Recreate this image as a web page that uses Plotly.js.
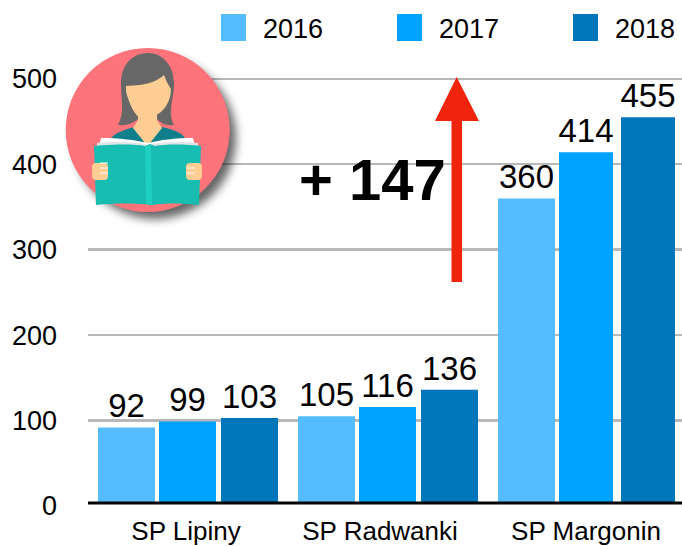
<!DOCTYPE html>
<html><head><meta charset="utf-8">
<script src="https://cdn.plot.ly/plotly-3.0.1.min.js"></script>
<style>html,body{margin:0;padding:0;background:#fff;overflow:hidden}</style>
</head><body><div id="chart" style="width:682px;height:546px"></div>
<script>
const categories = ['SP Lipiny','SP Radwanki','SP Margonin'];
const categoryTickPositions = [-0.01,-0.04+1,-0.01+2];
const years = ['2016','2017','2018'];
const values2016 = [92,105,360];
const values2017 = [99,116,414];
const values2018 = [103,136,455];
const colors = ['#55BCFF','#00A2FF','#0076BA'];
const offsets = [[-0.45,-0.45,-0.45],[-0.145,-0.145,-0.145],[0.165,0.165,0.165]];
const widths = [[0.285,0.285,0.285],[0.285,0.285,0.27],[0.285,0.285,0.27]];
const W=682,H=546,L=88,T=60,B=506;
const FONT='"Liberation Sans", Arial, sans-serif';
const X=x=>(x-L)/(W-L), Y=y=>(B-y)/(B-T);

const art=`<svg xmlns="http://www.w3.org/2000/svg" viewBox="40 30 220 210" width="220" height="210">
<defs><filter id="s" x="-30%" y="-30%" width="160%" height="160%"><feGaussianBlur stdDeviation="5"/></filter></defs>
<circle cx="155" cy="138" r="81" fill="#000" opacity="0.6" filter="url(#s)"/>
<circle cx="147.7" cy="130" r="82" fill="#FF737B"/>
<path d="M121 84C121 64 133 53 148 53C163 53 174 66 174 84C174 100 167 112 174 125C165 126 158 122 155 116L140 116C137 122 128 126 118 125C125 112 121 100 121 84Z" fill="#676767"/>
<path d="M111 138C118 131 128 129 134 127L162 127C170 129 180 131 185 138L185 150L111 150Z" fill="#0F7F8C"/>
<path d="M138 105L157 105L157 120L162 128L150 143L145 143L133 128L138 120Z" fill="#FDCD93"/>
<path d="M126 86C135 85 152 86 164 75C166 80 168 85 171 89C171 100 165 110 158 114C153 118 146 121 142 119C134 116 129 102 126 92Z" fill="#FDCD93"/>
<path d="M101 138C120 138 135 140 148 143C160 140 175 138 193 138L195 146L99 146Z" fill="#FFFFFF"/>
<path d="M97 143C118 141 135 142 148 145C160 142 178 141 198 143L198 147L97 147Z" fill="#DDE3E6"/>
<path d="M94 146C115 144 135 144 145 146L150 144L155 146C165 144 185 144 201 146L199 205C180 203 165 203 152 205C135 203 115 203 96 205Z" fill="#17BDB0"/>
<path d="M145 146L151 145L152 205L146 204Z" fill="#20D0C0"/>
<rect x="92" y="163" width="16" height="17" rx="4" fill="#FDCD93"/>
<rect x="186" y="163" width="16" height="17" rx="4" fill="#FDCD93"/>
<path d="M100 163l8 0M100 168l8 0M100 173l8 0M187 168l8 0M187 173l8 0" stroke="#fff" stroke-width="1"/>
</svg>`;

const traces=[values2016,values2017,values2018].map((v,i)=>({
  type:'bar',name:years[i],x:categories.map((c,j)=>j),y:v,offset:offsets[i],width:widths[i],
  marker:{color:colors[i],line:{width:5,color:'rgba(0,0,0,0)'}},
  text:v.map(String),textposition:'outside',cliponaxis:false,
  textfont:{family:FONT,size:33,color:'#000'},constraintext:'none',hoverinfo:'skip',showlegend:false
}));

const legendX=[[221,246,263],[397,422,439],[573,598,615]];
const shapes=[
 {type:'rect',xref:'paper',yref:'paper',x0:0,x1:1,y0:Y(506),y1:Y(503),fillcolor:'#fff',line:{width:0},layer:'above'},
 {type:'line',xref:'paper',yref:'paper',x0:0,x1:1,y0:Y(503),y1:Y(503),line:{color:'#000',width:3},layer:'above'},
 {type:'path',xref:'paper',yref:'paper',layer:'above',fillcolor:'#F0240C',line:{width:0},
  path:`M${X(456.7)} ${Y(77)}L${X(479)} ${Y(121)}L${X(462)} ${Y(121)}L${X(462)} ${Y(282)}L${X(451.5)} ${Y(282)}L${X(451.5)} ${Y(121)}L${X(435)} ${Y(121)}Z`}
];
const annotations=[
 {xref:'paper',yref:'paper',x:X(297),y:Y(179),xanchor:'left',yanchor:'middle',showarrow:false,text:'<b>+ 147</b>',font:{family:FONT,size:58,color:'#000'}}
];
legendX.forEach((p,i)=>{
 shapes.push({type:'rect',xref:'paper',yref:'paper',x0:X(p[0]),x1:X(p[1]),y0:Y(41),y1:Y(14),fillcolor:colors[i],line:{width:0}});
 annotations.push({xref:'paper',yref:'paper',x:X(p[2]-2),y:Y(29),xanchor:'left',yanchor:'middle',showarrow:false,text:years[i],font:{family:FONT,size:27,color:'#000'}});
});

Plotly.newPlot('chart',traces,{
 width:W,height:H,margin:{l:L,r:0,t:T,b:H-B,pad:0},
 paper_bgcolor:'#fff',plot_bgcolor:'#fff',barmode:'overlay',showlegend:false,
 font:{family:FONT,size:26,color:'#000'},
 xaxis:{type:'linear',range:[-0.5,2.47],tickvals:categoryTickPositions,ticktext:categories,showgrid:false,zeroline:false,showline:false,ticks:'',ticklabelstandoff:7,tickfont:{family:FONT,size:26,color:'#000'},automargin:false},
 yaxis:{range:[0,522],tickvals:[0,100,200,300,400,500],ticktext:['0','100','200','300','400','500'],showgrid:true,gridcolor:'#B8B8B8',gridwidth:2.5,zeroline:false,showline:false,ticks:'',ticklabelstandoff:30,tickfont:{family:FONT,size:27,color:'#000'},automargin:false},
 shapes,annotations,
 images:[{source:'data:image/svg+xml;charset=utf-8,'+encodeURIComponent(art),xref:'paper',yref:'paper',x:X(40),y:Y(30),sizex:220/(W-L),sizey:210/(B-T),xanchor:'left',yanchor:'top',sizing:'stretch',layer:'above'}]
},{displayModeBar:false,staticPlot:true});
</script></body></html>
